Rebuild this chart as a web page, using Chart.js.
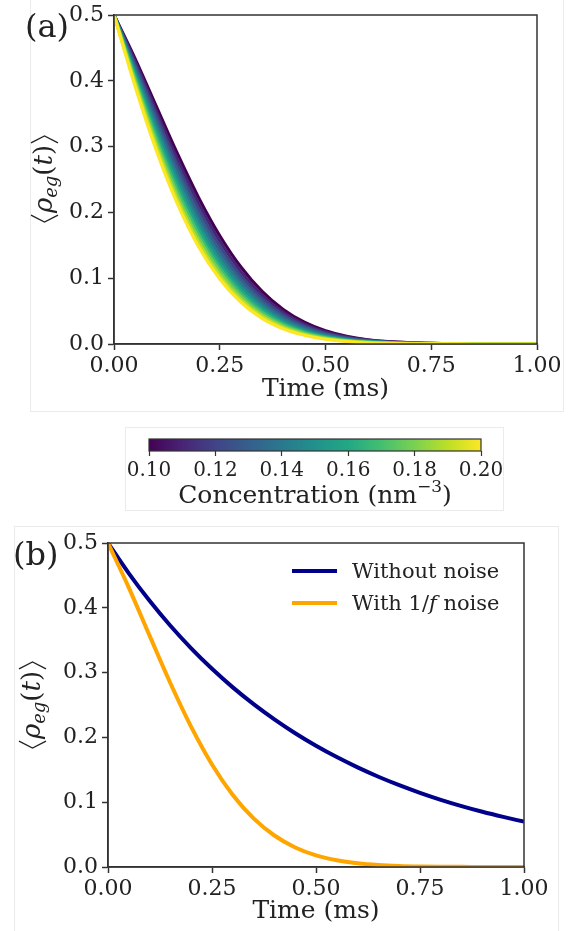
<!DOCTYPE html>
<html>
<head>
<meta charset="utf-8">
<script src="https://cdn.jsdelivr.net/npm/chart.js@4.4.1/dist/chart.umd.min.js"></script>
<style>
  html, body { margin: 0; padding: 0; background: #fff; }
  body { width: 574px; height: 931px; position: relative; overflow: hidden; }
  .frame { position: absolute; border: 1px solid #ebebeb; }
  .panel { position: absolute; left: 0; width: 574px; }
  canvas { display: block; }
</style>
</head>
<body>
<div class="frame" style="left:30px; top:-2px; width:532px; height:412px;"></div>
<div class="frame" style="left:125px; top:427px; width:377px; height:82px;"></div>
<div class="frame" style="left:14px; top:526px; width:543px; height:420px;"></div>

<div class="panel" style="top:0; height:420px;"><canvas id="conc-chart" width="574" height="420"></canvas></div>
<div class="panel" style="top:420px; height:100px;"><canvas id="colorbar" width="574" height="100"></canvas></div>
<div class="panel" style="top:520px; height:411px;"><canvas id="noise-chart" width="574" height="411"></canvas></div>

<script>
// Time grid shared by every curve (ms)
const timeMs = [0, 0.05, 0.10, 0.15, 0.20, 0.25, 0.30, 0.35, 0.40, 0.45, 0.50,
                0.55, 0.60, 0.65, 0.70, 0.75, 0.80, 0.85, 0.90, 0.95, 1.00]

// Panel (a): <rho_eg(t)> for each concentration (nm^-3)
const concentrations = [0.10, 0.11, 0.12, 0.13, 0.14, 0.15, 0.16, 0.17, 0.18, 0.19, 0.20]
const rhoC010 = [0.5, 0.4334, 0.3611, 0.2891, 0.2224, 0.1645, 0.1169, 0.0798, 0.0524, 0.0330, 0.0200, 0.0117, 0.0065, 0.0035, 0.0018, 0.0009, 0.0004, 0.0002, 0.0001, 0, 0]
const rhoC011 = [0.5, 0.4290, 0.3538, 0.2804, 0.2135, 0.1563, 0.1099, 0.0743, 0.0483, 0.0301, 0.0181, 0.0104, 0.0058, 0.0031, 0.0016, 0.0008, 0.0004, 0.0002, 0.0001, 0, 0]
const rhoC012 = [0.5, 0.4247, 0.3466, 0.2719, 0.2050, 0.1485, 0.1034, 0.0692, 0.0445, 0.0275, 0.0163, 0.0093, 0.0051, 0.0027, 0.0014, 0.0007, 0.0003, 0.0001, 0, 0, 0]
const rhoC013 = [0.5, 0.4204, 0.3396, 0.2637, 0.1968, 0.1411, 0.0973, 0.0644, 0.0410, 0.0251, 0.0147, 0.0083, 0.0045, 0.0024, 0.0012, 0.0006, 0.0003, 0.0001, 0, 0, 0]
const rhoC014 = [0.5, 0.4161, 0.3328, 0.2558, 0.1889, 0.1341, 0.0915, 0.0600, 0.0378, 0.0229, 0.0133, 0.0074, 0.0040, 0.0021, 0.0010, 0.0005, 0.0002, 0.0001, 0, 0, 0]
const rhoC015 = [0.5, 0.4119, 0.3261, 0.2481, 0.1814, 0.1275, 0.0861, 0.0558, 0.0348, 0.0209, 0.0120, 0.0067, 0.0035, 0.0018, 0.0009, 0.0004, 0.0002, 0.0001, 0, 0, 0]
const rhoC016 = [0.5, 0.4077, 0.3195, 0.2406, 0.1741, 0.1211, 0.0810, 0.0520, 0.0321, 0.0190, 0.0109, 0.0060, 0.0031, 0.0016, 0.0008, 0.0004, 0.0002, 0.0001, 0, 0, 0]
const rhoC017 = [0.5, 0.4035, 0.3130, 0.2333, 0.1672, 0.1151, 0.0762, 0.0484, 0.0296, 0.0174, 0.0098, 0.0053, 0.0028, 0.0014, 0.0007, 0.0003, 0.0001, 0, 0, 0, 0]
const rhoC018 = [0.5, 0.3994, 0.3067, 0.2263, 0.1605, 0.1094, 0.0716, 0.0451, 0.0273, 0.0159, 0.0089, 0.0048, 0.0025, 0.0012, 0.0006, 0.0003, 0.0001, 0, 0, 0, 0]
const rhoC019 = [0.5, 0.3954, 0.3005, 0.2195, 0.1541, 0.1039, 0.0674, 0.0420, 0.0251, 0.0145, 0.0080, 0.0043, 0.0022, 0.0011, 0.0005, 0.0002, 0.0001, 0, 0, 0, 0]
const rhoC020 = [0.5, 0.3914, 0.2944, 0.2129, 0.1479, 0.0988, 0.0634, 0.0391, 0.0232, 0.0132, 0.0072, 0.0038, 0.0019, 0.0009, 0.0004, 0.0002, 0.0001, 0, 0, 0, 0]
const rhoByConc = [rhoC010, rhoC011, rhoC012, rhoC013, rhoC014, rhoC015, rhoC016, rhoC017, rhoC018, rhoC019, rhoC020]

// viridis, sampled at the same 11 steps
const viridis = ['#440154', '#482475', '#414487', '#355f8d', '#2a788e', '#21918c',
                 '#22a884', '#44bf70', '#7ad151', '#bddf26', '#fde725']

// Panel (b): with and without 1/f noise
const rhoNoNoise = [0.5, 0.4532, 0.4108, 0.3723, 0.3375, 0.3059, 0.2772, 0.2513, 0.2278, 0.2064, 0.1871,
                    0.1696, 0.1537, 0.1393, 0.1263, 0.1145, 0.1037, 0.0940, 0.0852, 0.0773, 0.0700]
const rhoOneOverF = [0.5, 0.4312, 0.3570, 0.2836, 0.2163, 0.1583, 0.1112, 0.0750, 0.0486, 0.0302, 0.0180,
                     0.0103, 0.0057, 0.0030, 0.0015, 0.0007, 0.0003, 0.0002, 0.0001, 0, 0]
const noiseLabels = ["Without noise", "With 1/f noise"]
const noiseColors = ["#00008b", "#ffa500"]

// Tick values
const timeTicks = [0, 0.25, 0.5, 0.75, 1.0]
const rhoTicks = [0, 0.1, 0.2, 0.3, 0.4, 0.5]
const concTicks = [0.10, 0.12, 0.14, 0.16, 0.18, 0.20]

const SERIF = "'DejaVu Serif', serif"
const INK = "#222"
const SPINE = "#333"

const toPoints = (ys) => ys.map((y, i) => ({ x: timeMs[i], y: y }))

// Thin angle bracket, like TeX \langle / \rangle
function drawAngle(ctx, x, y, w, side) {
  const top = y - 21, bottom = y + 6, mid = (top + bottom) / 2
  const tip = side === "left" ? x + 2 : x + w - 2
  const ends = side === "left" ? x + w - 2 : x + 2
  ctx.save()
  ctx.strokeStyle = ctx.fillStyle
  ctx.lineWidth = 1.3
  ctx.beginPath()
  ctx.moveTo(ends, top)
  ctx.lineTo(tip, mid)
  ctx.lineTo(ends, bottom)
  ctx.stroke()
  ctx.restore()
}

// Draws a run of text pieces with their own fonts / baseline shifts
function drawPieces(ctx, pieces, x, y, align) {
  let total = 0
  pieces.forEach((p) => {
    if (p.angle) {
      p.w = p.width
    } else {
      ctx.font = p.font
      p.w = ctx.measureText(p.text).width
    }
    total += p.w
  })
  let cx = align === "center" ? x - total / 2 : x
  pieces.forEach((p) => {
    if (p.angle) {
      drawAngle(ctx, cx, y, p.w, p.angle)
    } else {
      ctx.font = p.font
      ctx.fillText(p.text, cx, y + (p.dy || 0))
    }
    cx += p.w
  })
}

const rhoLabel = [
  { angle: "left", width: 11 },
  { text: "ρ", font: "italic 26px " + SERIF },
  { text: "eg", font: "italic 18px " + SERIF, dy: 5 },
  { text: "(", font: "26px " + SERIF },
  { text: "t", font: "italic 26px " + SERIF },
  { text: ")", font: "26px " + SERIF },
  { angle: "right", width: 11 },
]

// Box spines, panel tag, axis titles
const axesFrame = {
  id: "axesFrame",
  afterDatasetsDraw(chart, args, opts) {
    const { ctx, chartArea: a } = chart
    ctx.save()
    ctx.strokeStyle = SPINE
    ctx.lineWidth = 1.5
    ctx.strokeRect(a.left, a.top, a.right - a.left, a.bottom - a.top)
    ctx.restore()
  },
  afterDraw(chart, args, opts) {
    const { ctx, chartArea: a } = chart
    ctx.save()
    ctx.fillStyle = INK
    ctx.textBaseline = "alphabetic"
    if (opts.tag) {
      ctx.font = "32px " + SERIF
      ctx.textAlign = "left"
      ctx.fillText(opts.tag, opts.tagX, opts.tagY)
    }
    if (opts.xTitleY) {
      ctx.font = "25px " + SERIF
      ctx.textAlign = "center"
      ctx.fillText("Time (ms)", (a.left + a.right) / 2, opts.xTitleY)
    }
    if (opts.yTitleX) {
      ctx.textAlign = "left"
      ctx.translate(opts.yTitleX, opts.yTitleY)
      ctx.rotate(-Math.PI / 2)
      drawPieces(ctx, rhoLabel, 0, 9, "center")
    }
    ctx.restore()
  },
}

function axisOptions(yWidth, xHeight) {
  const tickFont = { family: SERIF, size: 22, lineHeight: 1.0 }
  return {
    x: {
      type: "linear",
      min: 0,
      max: 1,
      afterBuildTicks: (s) => { s.ticks = timeTicks.map((v) => ({ value: v })) },
      afterFit: (s) => { s.height = xHeight },
      ticks: { color: INK, font: tickFont, padding: 5, maxRotation: 0, autoSkip: false,
               callback: (v) => Number(v).toFixed(2) },
      grid: { drawOnChartArea: false, tickLength: 6, tickWidth: 1.5, tickColor: SPINE },
      border: { display: true, color: SPINE, width: 1.5 },
    },
    y: {
      type: "linear",
      min: 0,
      max: 0.5,
      afterBuildTicks: (s) => { s.ticks = rhoTicks.map((v) => ({ value: v })) },
      afterFit: (s) => { s.width = yWidth },
      ticks: { color: INK, font: tickFont, padding: 4, autoSkip: false,
               callback: (v) => Number(v).toFixed(1) },
      grid: { drawOnChartArea: false, tickLength: 6, tickWidth: 1.5, tickColor: SPINE },
      border: { display: true, color: SPINE, width: 1.5 },
    },
  }
}

// Panel (a)
new Chart(document.getElementById("conc-chart"), {
  type: "line",
  data: {
    datasets: rhoByConc.map((ys, k) => ({
      label: concentrations[k].toFixed(2),
      data: toPoints(ys),
      borderColor: viridis[k],
      borderWidth: 3.2,
      pointRadius: 0,
      cubicInterpolationMode: "monotone",
      order: rhoByConc.length - k,
    })),
  },
  options: {
    responsive: false,
    animation: false,
    layout: { padding: { left: 0, top: 12, right: 37, bottom: 0 } },
    scales: axisOptions(114, 76),
    plugins: {
      legend: { display: false },
      tooltip: { enabled: false },
      axesFrame: { tag: "(a)", tagX: 25, tagY: 37, xTitleY: 396, yTitleX: 43, yTitleY: 179 },
    },
  },
  plugins: [axesFrame],
})

// Colour bar for the concentration
const colorbarFill = {
  id: "colorbarFill",
  beforeDatasetsDraw(chart) {
    const { ctx, chartArea: a } = chart
    const g = ctx.createLinearGradient(a.left, 0, a.right, 0)
    viridis.forEach((c, i) => g.addColorStop(i / (viridis.length - 1), c))
    ctx.save()
    ctx.fillStyle = g
    ctx.fillRect(a.left, a.top, a.right - a.left, a.bottom - a.top)
    ctx.strokeStyle = SPINE
    ctx.lineWidth = 1.2
    ctx.strokeRect(a.left, a.top, a.right - a.left, a.bottom - a.top)
    ctx.restore()
  },
  afterDraw(chart) {
    const { ctx, chartArea: a } = chart
    ctx.save()
    ctx.fillStyle = INK
    ctx.textBaseline = "alphabetic"
    const big = "25px " + SERIF
    drawPieces(ctx, [
      { text: "Concentration (nm", font: big },
      { text: "−3", font: "17px " + SERIF, dy: -11 },
      { text: ")", font: big },
    ], (a.left + a.right) / 2, 83, "center")
    ctx.restore()
  },
}

new Chart(document.getElementById("colorbar"), {
  type: "scatter",
  data: { datasets: [{ data: [] }] },
  options: {
    responsive: false,
    animation: false,
    layout: { padding: { left: 149, top: 19, right: 93, bottom: 0 } },
    scales: {
      x: {
        type: "linear",
        min: concTicks[0],
        max: concTicks[concTicks.length - 1],
        afterBuildTicks: (s) => { s.ticks = concTicks.map((v) => ({ value: v })) },
        afterFit: (s) => { s.height = 69 },
        ticks: { color: INK, font: { family: SERIF, size: 20, lineHeight: 1.0 }, padding: 5,
                 maxRotation: 0, autoSkip: false, callback: (v) => Number(v).toFixed(2) },
        grid: { drawOnChartArea: false, tickLength: 5, tickWidth: 1.2, tickColor: SPINE },
        border: { display: false },
      },
      y: { display: false, min: 0, max: 1 },
    },
    plugins: { legend: { display: false }, tooltip: { enabled: false } },
  },
  plugins: [colorbarFill],
})

// Panel (b) legend, drawn inside the axes
const innerLegend = {
  id: "innerLegend",
  afterDraw(chart) {
    const { ctx } = chart
    const rows = [51, 83]
    ctx.save()
    ctx.textBaseline = "alphabetic"
    ctx.fillStyle = INK
    chart.data.datasets.forEach((ds, i) => {
      const y = rows[i]
      ctx.strokeStyle = ds.borderColor
      ctx.lineWidth = 4
      ctx.beginPath()
      ctx.moveTo(292, y)
      ctx.lineTo(337, y)
      ctx.stroke()
      const font = "21px " + SERIF
      const pieces = i === 0
        ? [{ text: ds.label, font: font }]
        : [{ text: "With 1/", font: font },
           { text: "f", font: "italic 21px " + SERIF },
           { text: " noise", font: font }]
      drawPieces(ctx, pieces, 352, y + 7, "left")
    })
    ctx.restore()
  },
}

new Chart(document.getElementById("noise-chart"), {
  type: "line",
  data: {
    datasets: [
      { label: noiseLabels[0], data: toPoints(rhoNoNoise), borderColor: noiseColors[0],
        borderWidth: 4, pointRadius: 0, cubicInterpolationMode: "monotone", order: 1 },
      { label: noiseLabels[1], data: toPoints(rhoOneOverF), borderColor: noiseColors[1],
        borderWidth: 4, pointRadius: 0, cubicInterpolationMode: "monotone", order: 0 },
    ],
  },
  options: {
    responsive: false,
    animation: false,
    layout: { padding: { left: 0, top: 23, right: 50, bottom: 0 } },
    scales: axisOptions(108, 64),
    plugins: {
      legend: { display: false },
      tooltip: { enabled: false },
      axesFrame: { tag: "(b)", tagX: 13, tagY: 45, xTitleY: 398, yTitleX: 31, yTitleY: 185 },
    },
  },
  plugins: [axesFrame, innerLegend],
})
</script>
</body>
</html>
